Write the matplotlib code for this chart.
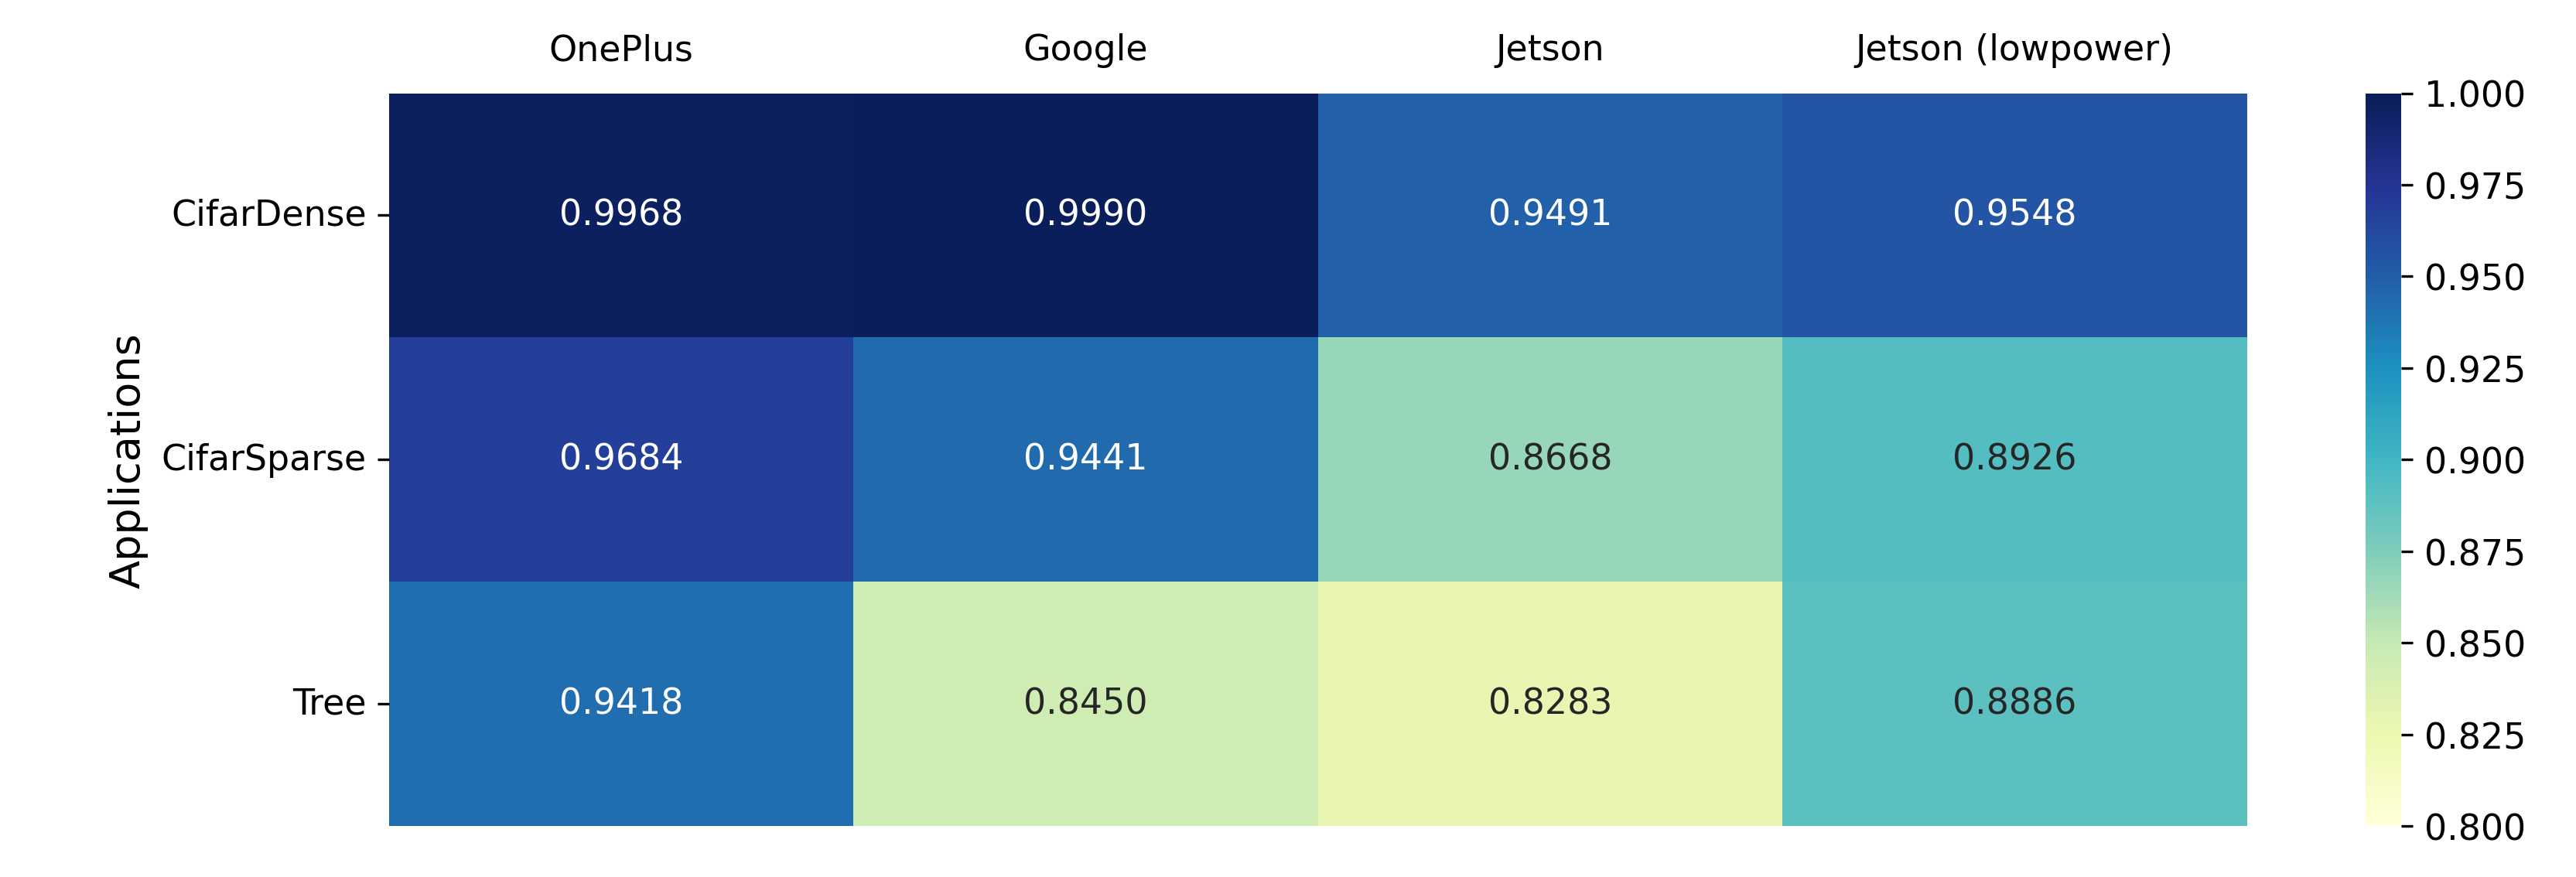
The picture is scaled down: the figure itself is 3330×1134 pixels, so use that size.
import matplotlib
matplotlib.use("Agg")
import matplotlib.pyplot as plt
import seaborn as sns
import numpy as np

apps = ["CifarDense", "CifarSparse", "Tree"]
devices = ["OnePlus", "Google", "Jetson", "Jetson (lowpower)"]
cifar_dense = [0.9968, 0.9990, 0.9491, 0.9548]
cifar_sparse = [0.9684, 0.9441, 0.8668, 0.8926]
tree = [0.9418, 0.8450, 0.8283, 0.8886]

data = np.array([cifar_dense, cifar_sparse, tree])

fig = plt.figure(figsize=(11.103, 3.783), dpi=300)
ax = fig.add_axes([0.151, 0.058, 0.721, 0.835])
cax = fig.add_axes([0.918, 0.058, 0.014, 0.835])
sns.heatmap(data, ax=ax, cbar_ax=cax, cmap="YlGnBu", vmin=0.8, vmax=1.0,
            annot=True, fmt=".4f", annot_kws={"fontsize": 11},
            xticklabels=devices, yticklabels=apps)
ax.xaxis.tick_top()
ax.tick_params(axis="x", length=0, labelsize=11, pad=8)
ax.tick_params(axis="y", labelsize=11, rotation=0)
ax.set_ylabel("Applications", fontsize=13)
cax.tick_params(labelsize=11)
fig.savefig("out.png", dpi=300)
